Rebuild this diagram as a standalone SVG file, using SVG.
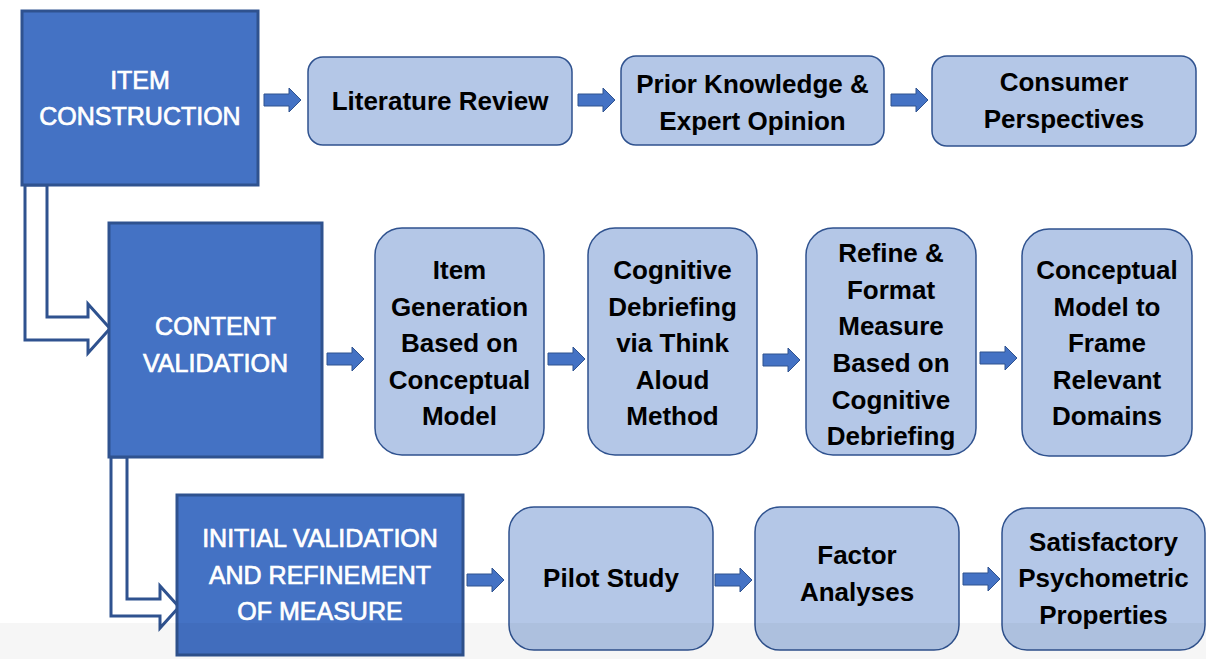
<svg xmlns="http://www.w3.org/2000/svg" xmlns:xlink="http://www.w3.org/1999/xlink" width="1206" height="659" viewBox="0 0 1206 659">
<style>
.dark{fill:#4472C4;stroke:#2F528F;stroke-width:3}
.light{fill:#B4C7E7;stroke:#2F528F;stroke-width:1.5}
.wt{font-family:"Liberation Sans",Arial,sans-serif;font-size:25px;fill:#ffffff;stroke:#ffffff;stroke-width:0.7;text-anchor:middle}
.bt{font-family:"Liberation Sans",Arial,sans-serif;font-size:26px;font-weight:bold;fill:#000000;text-anchor:middle}
.hollow{fill:#ffffff;stroke:#2F528F;stroke-width:3;stroke-linejoin:miter}
.sa{fill:#4472C4;stroke:#2F528F;stroke-width:1}
</style>
<defs>
<path id="arr" d="M0,-6 H25 V-12 L37,0 L25,12 V6 H0 Z"/>
</defs>
<rect x="0" y="0" width="1206" height="659" fill="#ffffff"/>
<g id="connectors">
<path class="hollow" d="M25,185 L47,185 L47,317 L88,317 L88,304 L110,328.5 L88,353 L88,340 L25,340 Z"/>
<path class="hollow" d="M111,457 L127,457 L127,599 L160,599 L160,586 L179,607 L160,628 L160,616 L111,616 Z"/>
<use href="#arr" xlink:href="#arr" class="sa" transform="translate(264,100)"/>
<use href="#arr" xlink:href="#arr" class="sa" transform="translate(578,100)"/>
<use href="#arr" xlink:href="#arr" class="sa" transform="translate(891,100)"/>
<use href="#arr" xlink:href="#arr" class="sa" transform="translate(327,359)"/>
<use href="#arr" xlink:href="#arr" class="sa" transform="translate(548,359)"/>
<use href="#arr" xlink:href="#arr" class="sa" transform="translate(763,360)"/>
<use href="#arr" xlink:href="#arr" class="sa" transform="translate(980,358)"/>
<use href="#arr" xlink:href="#arr" class="sa" transform="translate(467,580)"/>
<use href="#arr" xlink:href="#arr" class="sa" transform="translate(715,580)"/>
<use href="#arr" xlink:href="#arr" class="sa" transform="translate(963,579)"/>
</g>
<g id="item-construction">
<rect class="dark" x="22" y="11" width="236" height="174"/>
<text class="wt" x="140" y="89">ITEM</text>
<text class="wt" x="140" y="125">CONSTRUCTION</text>
</g>
<g id="content-validation">
<rect class="dark" x="109" y="223" width="213" height="234"/>
<text class="wt" x="215.5" y="335">CONTENT</text>
<text class="wt" x="215.5" y="372">VALIDATION</text>
</g>
<g id="initial-validation">
<rect class="dark" x="177" y="495" width="286" height="160"/>
<text class="wt" x="320" y="547">INITIAL VALIDATION</text>
<text class="wt" x="320" y="584">AND REFINEMENT</text>
<text class="wt" x="320" y="620">OF MEASURE</text>
</g>
<g id="literature-review">
<rect class="light" x="308" y="57" width="264" height="88" rx="15"/>
<text class="bt" x="440" y="110">Literature Review</text>
</g>
<g id="prior-knowledge">
<rect class="light" x="621" y="56" width="263" height="89" rx="15"/>
<text class="bt" x="752.5" y="93">Prior Knowledge &amp;</text>
<text class="bt" x="752.5" y="130">Expert Opinion</text>
</g>
<g id="consumer-perspectives">
<rect class="light" x="932" y="56" width="264" height="90" rx="15"/>
<text class="bt" x="1064" y="91">Consumer</text>
<text class="bt" x="1064" y="128">Perspectives</text>
</g>
<g id="item-generation">
<rect class="light" x="375" y="228" width="169" height="227" rx="27"/>
<text class="bt" x="459.5" y="279">Item</text>
<text class="bt" x="459.5" y="316">Generation</text>
<text class="bt" x="459.5" y="352">Based on</text>
<text class="bt" x="459.5" y="389">Conceptual</text>
<text class="bt" x="459.5" y="425">Model</text>
</g>
<g id="cognitive-debriefing">
<rect class="light" x="588" y="228" width="169" height="227" rx="27"/>
<text class="bt" x="672.5" y="279">Cognitive</text>
<text class="bt" x="672.5" y="316">Debriefing</text>
<text class="bt" x="672.5" y="352">via Think</text>
<text class="bt" x="672.5" y="389">Aloud</text>
<text class="bt" x="672.5" y="425">Method</text>
</g>
<g id="refine-format">
<rect class="light" x="806" y="228" width="170" height="227" rx="27"/>
<text class="bt" x="891" y="262">Refine &amp;</text>
<text class="bt" x="891" y="299">Format</text>
<text class="bt" x="891" y="335">Measure</text>
<text class="bt" x="891" y="372">Based on</text>
<text class="bt" x="891" y="409">Cognitive</text>
<text class="bt" x="891" y="445">Debriefing</text>
</g>
<g id="conceptual-model">
<rect class="light" x="1022" y="229" width="170" height="227" rx="27"/>
<text class="bt" x="1107" y="279">Conceptual</text>
<text class="bt" x="1107" y="316">Model to</text>
<text class="bt" x="1107" y="352">Frame</text>
<text class="bt" x="1107" y="389">Relevant</text>
<text class="bt" x="1107" y="425">Domains</text>
</g>
<g id="pilot-study">
<rect class="light" x="509" y="507" width="204" height="143" rx="25"/>
<text class="bt" x="611" y="587">Pilot Study</text>
</g>
<g id="factor-analyses">
<rect class="light" x="755" y="507" width="204" height="143" rx="25"/>
<text class="bt" x="857" y="564">Factor</text>
<text class="bt" x="857" y="601">Analyses</text>
</g>
<g id="satisfactory-properties">
<rect class="light" x="1002" y="508" width="203" height="142" rx="25"/>
<text class="bt" x="1103.5" y="551">Satisfactory</text>
<text class="bt" x="1103.5" y="587">Psychometric</text>
<text class="bt" x="1103.5" y="624">Properties</text>
</g>
<rect x="0" y="623" width="1206" height="36" fill="#000000" fill-opacity="0.035"/>
</svg>
